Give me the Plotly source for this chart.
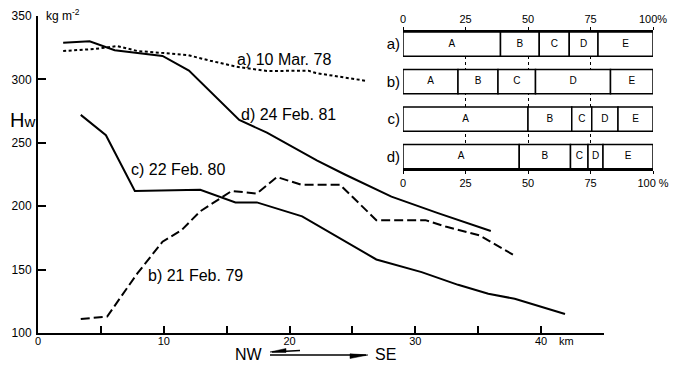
import plotly.graph_objects as go

# ---------------- main chart data (km from NW end, Hw in kg m^-2) ----------------
km_a = [2.0, 4.5, 6.3, 7.9, 9.7, 11.9, 13.7, 15.8, 18.2, 21.5, 22.1, 26.0]
hw_a = [322.4, 324.0, 326.3, 322.4, 321.0, 319.2, 314.7, 310.0, 306.6, 306.9, 305.0, 299.0]

km_b = [3.4, 5.5, 7.9, 9.9, 11.4, 12.9, 15.4, 17.4, 19.0, 20.9, 24.0, 26.9, 30.8, 32.4, 35.1, 37.9]
hw_b = [111, 113, 147, 172, 181, 196, 212, 210, 223, 217, 217, 189, 189, 184, 177, 161]

km_c = [3.4, 5.4, 7.7, 12.9, 15.7, 17.4, 21.0, 23.9, 26.9, 30.5, 33.4, 35.8, 37.9, 41.9]
hw_c = [272, 256, 212, 213, 203, 203, 192, 175, 158, 148, 138, 131, 127, 115]

km_d = [2.0, 4.1, 6.1, 9.9, 12.0, 16.0, 18.2, 22.2, 24.4, 28.1, 31.8, 36.0]
hw_d = [329, 330, 323, 318.5, 307, 268, 258, 236, 225, 207.5, 194.5, 180.5]

series_labels = ["a) 10 Mar. 78", "b) 21 Feb. 79", "c) 22 Feb. 80", "d) 24 Feb. 81"]

x_tickvals = [0, 10, 20, 30, 40]
x_ticktext = ["0", "10", "20", "30", "40"]
y_tickvals = [100, 150, 200, 250, 300, 350]

# ---------------- inset data (percent of section) ----------------
rows = ["a)", "b)", "c)", "d)"]
classes = ["A", "B", "C", "D", "E"]
share_A = [39.0, 22.0, 50.0, 46.5]
share_B = [15.5, 16.0, 17.5, 20.5]
share_C = [12.0, 15.0, 8.0, 7.0]
share_D = [11.5, 30.0, 10.5, 6.0]
share_E = [22.0, 17.0, 14.0, 20.0]
pct_tickvals = [0, 25, 50, 75, 100]
pct_top_text = ["0", "25", "50", "75", "100%"]
pct_bot_text = ["0", "25", "50", "75", "100 %"]

FONT = "Liberation Sans, Arial, sans-serif"
fig = go.Figure()

line_w = 2.0
fig.add_trace(go.Scatter(x=km_a, y=hw_a, mode="lines", line=dict(color="black", width=line_w, dash="3px,2.5px"),
                         xaxis="x", yaxis="y", showlegend=False))
fig.add_trace(go.Scatter(x=km_b, y=hw_b, mode="lines", line=dict(color="black", width=line_w, dash="9px,4px"),
                         xaxis="x", yaxis="y", showlegend=False))
fig.add_trace(go.Scatter(x=km_c, y=hw_c, mode="lines", line=dict(color="black", width=line_w),
                         xaxis="x", yaxis="y", showlegend=False))
fig.add_trace(go.Scatter(x=km_d, y=hw_d, mode="lines", line=dict(color="black", width=line_w),
                         xaxis="x", yaxis="y", showlegend=False))

# ---------------- inset bars ----------------
all_shares = [share_A, share_B, share_C, share_D, share_E]
row_pos = list(range(len(rows)))
bases = [[0.0] * len(rows)]
for s in all_shares[:-1]:
    bases.append([b + v for b, v in zip(bases[-1], s)])

txt_x, txt_y, txt_t = [], [], []
for cls, s, b in zip(classes, all_shares, bases):
    fig.add_trace(go.Bar(y=row_pos, x=s, base=b, orientation="h", width=0.65,
                         marker=dict(color="white", line=dict(color="black", width=1.5)),
                         xaxis="x2", yaxis="y2", showlegend=False, hoverinfo="skip"))
    for r, (v, bb) in enumerate(zip(s, b)):
        txt_x.append(bb + v / 2)
        txt_y.append(r)
        txt_t.append(cls)

fig.add_trace(go.Scatter(x=txt_x, y=txt_y, text=txt_t, mode="text",
                         textfont=dict(size=10, color="black", family=FONT),
                         xaxis="x3", yaxis="y2", showlegend=False, hoverinfo="skip"))

# ---------------- layout ----------------
# the page adds an 8px body margin, so screen px = figure px + OFF
OFF = 8
W, H = 684, 366
L, R, T, B = 30, 28, 2, 41
pw, ph = W - L - R, H - T - B


def px2paper_x(px):
    return (px - OFF - L) / pw


def px2paper_y(py):
    return (H - B - (py - OFF)) / ph


axis_common = dict(showline=True, linecolor="black", showgrid=False, zeroline=False, automargin=False)

fig.update_layout(
    width=W, height=H,
    margin=dict(l=L, r=R, t=T, b=B, pad=0),
    paper_bgcolor="white", plot_bgcolor="white",
    font=dict(family=FONT, color="black"),
    barmode="overlay",
    showlegend=False,
    xaxis=dict(domain=[px2paper_x(38), px2paper_x(604)], range=[0, 45], anchor="y",
               tickvals=x_tickvals, ticktext=x_ticktext, ticks="inside", ticklen=7, tickwidth=1.5,
               tickcolor="black", linewidth=2, tickfont=dict(size=11), ticklabelstandoff=-3,
               minor=dict(dtick=5, tick0=0, ticks="inside", ticklen=7, tickwidth=1.5,
                          tickcolor="black", showgrid=False),
               **axis_common),
    yaxis=dict(domain=[px2paper_y(333), px2paper_y(16)], range=[100, 350], anchor="x",
               tickvals=y_tickvals, ticks="inside", ticklen=8, tickwidth=1.5, tickcolor="black",
               linewidth=2, tickfont=dict(size=12), ticklabelstandoff=2, **axis_common),
    xaxis2=dict(domain=[px2paper_x(403), px2paper_x(653)], range=[0, 100], anchor="y2", side="top",
                tickvals=pct_tickvals, ticktext=pct_top_text, ticks="outside", ticklen=3,
                tickcolor="black", linewidth=1.5, linecolor="black", showline=True,
                showgrid=True, griddash="dot", gridcolor="black", gridwidth=1, zeroline=False,
                tickfont=dict(size=11), automargin=False),
    xaxis3=dict(overlaying="x2", range=[0, 100], anchor="y2", side="bottom",
                tickvals=pct_tickvals, ticktext=pct_bot_text, ticks="outside", ticklen=3,
                tickcolor="black", linewidth=1.5, tickfont=dict(size=11), **axis_common),
    yaxis2=dict(domain=[px2paper_y(169), px2paper_y(31.7)], range=[3.33, -0.33], anchor="x2",
                tickvals=row_pos, ticktext=rows, ticks="", showline=False, showgrid=False,
                zeroline=False, tickfont=dict(size=15), ticklabelstandoff=2, automargin=False),
)

ann = []
# curve labels (data coordinates)
label_pos = [(15.7, 316), (8.55, 145), (7.2, 229), (16.0, 272.5)]
for txt, (lx, ly) in zip(series_labels, label_pos):
    ann.append(dict(text=txt, x=lx, y=ly, xref="x", yref="y", xanchor="left", yanchor="middle",
                    showarrow=False, font=dict(size=16)))
# axis labels
ann.append(dict(text="H<span style='font-size:15px'>w</span>", x=px2paper_x(22), y=px2paper_y(120),
                xref="paper", yref="paper", xanchor="center", yanchor="middle",
                showarrow=False, font=dict(size=20)))
ann.append(dict(text="kg m<sup>-2</sup>", x=px2paper_x(44), y=px2paper_y(15), xref="paper", yref="paper",
                xanchor="left", yanchor="middle", showarrow=False, font=dict(size=12)))
ann.append(dict(text="km", x=42.0, y=px2paper_y(341), xref="x", yref="paper", xanchor="center",
                yanchor="middle", showarrow=False, font=dict(size=11)))
ann.append(dict(text="NW", x=px2paper_x(249), y=px2paper_y(355), xref="paper", yref="paper",
                xanchor="center", yanchor="middle", showarrow=False, font=dict(size=16)))
ann.append(dict(text="SE", x=px2paper_x(385), y=px2paper_y(355), xref="paper", yref="paper",
                xanchor="center", yanchor="middle", showarrow=False, font=dict(size=16)))
fig.update_layout(annotations=ann)


# direction arrows (harpoons) drawn as shapes in paper space
def pp(px, py):
    return f"{px2paper_x(px):.5f},{px2paper_y(py):.5f}"


shapes = [
    dict(type="line", xref="paper", yref="paper", x0=px2paper_x(270), y0=px2paper_y(355),
         x1=px2paper_x(366), y1=px2paper_y(355), line=dict(color="black", width=1.5)),
    dict(type="path", xref="paper", yref="paper",
         path=f"M {pp(368, 355)} L {pp(350, 353.8)} L {pp(350, 358.5)} Z",
         fillcolor="black", line=dict(color="black", width=0.5)),
    dict(type="line", xref="paper", yref="paper", x0=px2paper_x(272), y0=px2paper_y(352),
         x1=px2paper_x(300), y1=px2paper_y(350.5), line=dict(color="black", width=1.5)),
    dict(type="path", xref="paper", yref="paper",
         path=f"M {pp(270, 352)} L {pp(286, 348.5)} L {pp(286, 352.5)} Z",
         fillcolor="black", line=dict(color="black", width=0.5)),
]
fig.update_layout(shapes=shapes)

fig.write_html("out.html")
